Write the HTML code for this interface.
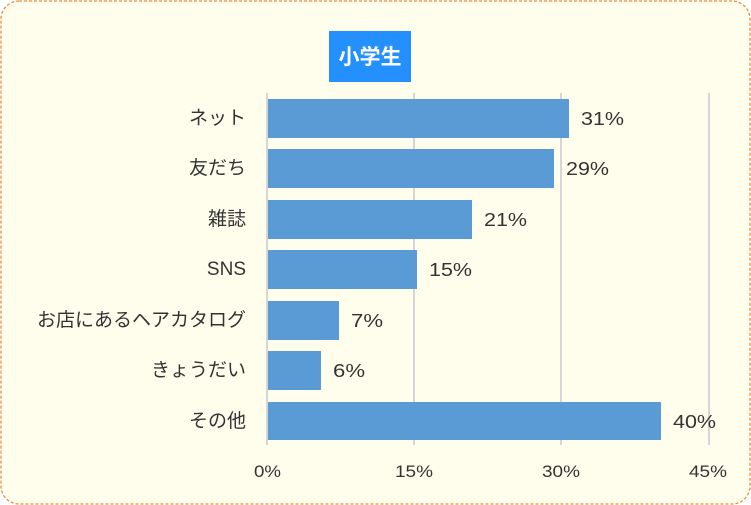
<!DOCTYPE html>
<html><head><meta charset="utf-8"><style>
html,body{margin:0;padding:0;background:#fff;}
svg{display:block;}
text{font-family:"Liberation Sans","Noto Sans CJK JP",sans-serif;fill:#333;}
</style></head><body>
<svg width="751" height="505" xmlns="http://www.w3.org/2000/svg">
<rect x="1" y="1" width="749" height="503" rx="18" ry="18" fill="#fffeed" stroke="#f08a3a" stroke-width="1.3" stroke-dasharray="3,2"/>
<rect x="329" y="31" width="82" height="51" fill="#2390fe"/>
<text x="370" y="64" font-size="21" font-weight="bold" text-anchor="middle" style="fill:#fff">小学生</text>
<g stroke="#d6d6d6" stroke-width="2">
<line x1="267" y1="93" x2="267" y2="445"/>
<line x1="414" y1="93" x2="414" y2="445"/>
<line x1="561" y1="93" x2="561" y2="445"/>
<line x1="709" y1="93" x2="709" y2="445"/>
</g>
<g fill="#5b9bd5">
<rect x="268" y="99" width="301" height="39"/>
<rect x="268" y="149" width="286" height="39"/>
<rect x="268" y="200" width="204" height="39"/>
<rect x="268" y="250" width="149" height="39"/>
<rect x="268" y="301" width="71" height="39"/>
<rect x="268" y="351" width="53" height="39"/>
<rect x="268" y="402" width="393" height="38"/>
</g>
<g font-size="19" text-anchor="end">
<text x="246" y="124">ネット</text>
<text x="246" y="174">友だち</text>
<text x="246" y="225">雑誌</text>
<text x="246" y="275">SNS</text>
<text x="246" y="326">お店にあるヘアカタログ</text>
<text x="246" y="376">きょうだい</text>
<text x="246" y="427">その他</text>
</g>
<g font-size="18">
<text x="581" y="125" textLength="43" lengthAdjust="spacingAndGlyphs">31%</text>
<text x="566" y="175" textLength="43" lengthAdjust="spacingAndGlyphs">29%</text>
<text x="484" y="226" textLength="43" lengthAdjust="spacingAndGlyphs">21%</text>
<text x="429" y="276" textLength="43" lengthAdjust="spacingAndGlyphs">15%</text>
<text x="351" y="327" textLength="32" lengthAdjust="spacingAndGlyphs">7%</text>
<text x="333" y="377" textLength="32" lengthAdjust="spacingAndGlyphs">6%</text>
<text x="673" y="428" textLength="43" lengthAdjust="spacingAndGlyphs">40%</text>
</g>
<g font-size="17">
<text x="254" y="477" textLength="27" lengthAdjust="spacingAndGlyphs">0%</text>
<text x="395" y="477" textLength="38" lengthAdjust="spacingAndGlyphs">15%</text>
<text x="542" y="477" textLength="38" lengthAdjust="spacingAndGlyphs">30%</text>
<text x="689" y="477" textLength="38" lengthAdjust="spacingAndGlyphs">45%</text>
</g>
</svg>
</body></html>
